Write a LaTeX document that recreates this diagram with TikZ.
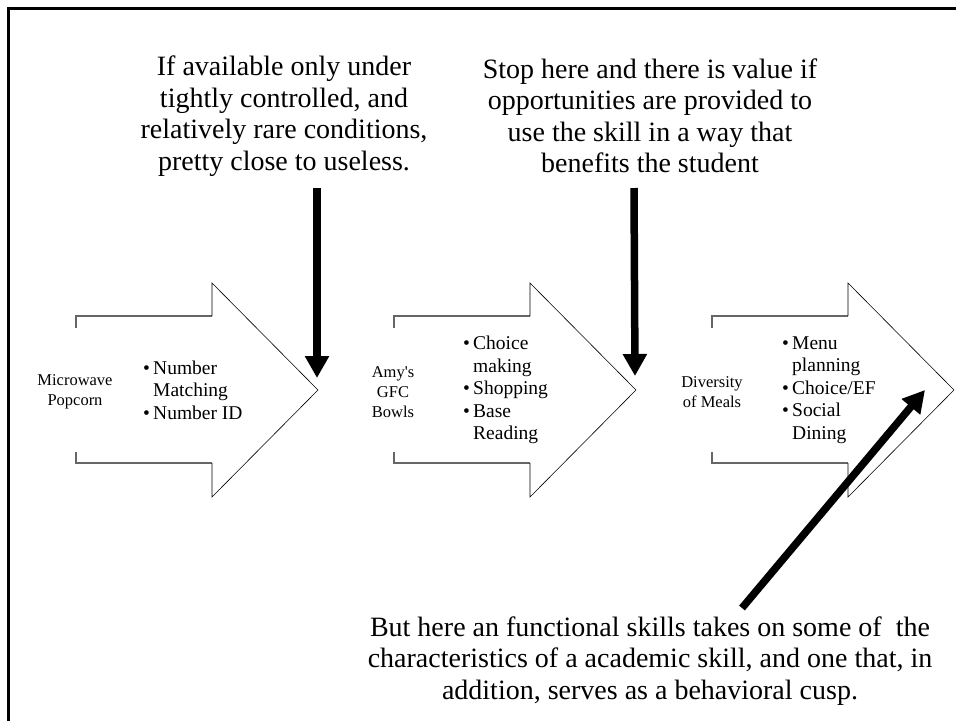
\documentclass[tikz,border=0pt]{standalone}
\usepackage{fontspec}
\setmainfont{Liberation Serif}
\usepackage{tikz}
\usetikzlibrary{arrows.meta}

\newcommand{\skillbul}{\makebox[10pt][l]{\textbullet}}
\newcommand{\skillgap}{\hspace*{10pt}}

\tikzset{
	stem/.style={line width=1.4pt, black!60},
	head/.style={line width=0.6pt, black},
	dishlabel/.style={align=center, inner sep=0pt, font=\fontsize{16.5}{20}\selectfont},
	skilllist/.style={align=left, anchor=west, inner sep=0pt, font=\fontsize{19.5}{22.5}\selectfont},
	note/.style={align=center, inner sep=0pt, font=\fontsize{28}{31.5}\selectfont},
	pointer/.style={line width=7.5pt, -{Triangle[width=23pt,length=22pt]}}
}

\begin{document}
\begin{tikzpicture}[x=1pt, y=-1pt]
	\useasboundingbox (0,0) rectangle (956,721);
	\draw[line width=3pt] (8,721) -- (8,8) -- (956,8);

	% popcorn arrow
	\draw[stem] (76,328) -- (76,316) -- (212,316);
	\draw[stem] (212,463) -- (76,463) -- (76,452);
	\draw[head] (212,316) -- (212,283) -- (318,390) -- (212,497) -- (212,463);
	% bowls arrow
	\draw[stem] (394,328) -- (394,316) -- (530,316);
	\draw[stem] (530,463) -- (394,463) -- (394,452);
	\draw[head] (530,316) -- (530,283) -- (636,390) -- (530,497) -- (530,463);
	% meals arrow
	\draw[stem] (712,328) -- (712,316) -- (848,316);
	\draw[stem] (848,463) -- (712,463) -- (712,452);
	\draw[head] (848,316) -- (848,283) -- (954,390) -- (848,497) -- (848,463);

	\node[dishlabel] (pop) at (75,392) {Microwave\\Popcorn};
	\node[dishlabel] (gfc) at (393,392) {Amy\textquotesingle s\\GFC\\Bowls};
	\node[dishlabel] (meals) at (712,392) {Diversity\\of Meals};

	\node[skilllist] (popskills) at (143,390) {\skillbul Number\\\skillgap Matching\\\skillbul Number ID};
	\node[skilllist] (gfcskills) at (463,390) {\skillbul Choice\\\skillgap making\\\skillbul Shopping\\\skillbul Base\\\skillgap Reading};
	\node[skilllist] (mealskills) at (782,390) {\skillbul Menu\\\skillgap planning\\\skillbul Choice/EF\\\skillbul Social\\\skillgap Dining};

	\node[note] (noteA) at (284,116) {If available only under\\tightly controlled, and\\relatively rare conditions,\\pretty close to useless.};
	\node[note] (noteB) at (650,116) {Stop here and there is value if\\opportunities are provided to\\use the skill in a way that\\benefits the student};
	\node[note] (noteC) at (650,661) {But here an functional skills takes on some of~ the\\characteristics of a academic skill, and one that, in\\addition, serves as a behavioral cusp.};

	\coordinate (startA) at (317,188);
	\coordinate (tipA) at (317,378);
	\coordinate (startB) at (634,188);
	\coordinate (tipB) at (635,376);
	\coordinate (startC) at (742,608);
	\coordinate (tipC) at (925,390);
	\draw[pointer] (startA) -- (tipA);
	\draw[pointer] (startB) -- (tipB);
	\draw[pointer] (startC) -- (tipC);
\end{tikzpicture}
\end{document}
